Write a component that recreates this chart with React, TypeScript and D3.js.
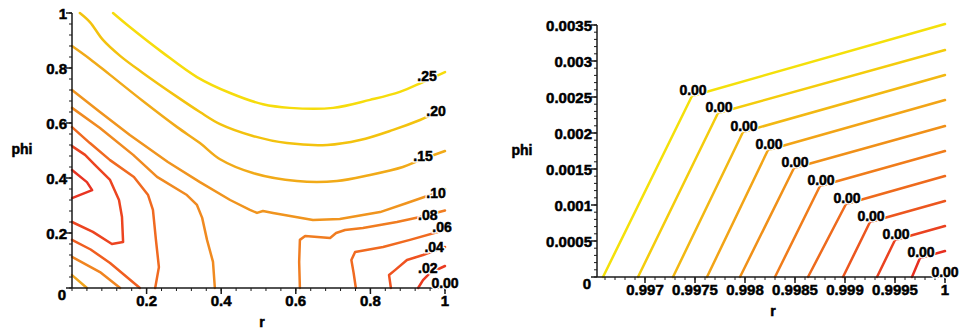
import React from 'react';
import * as d3 from 'd3';

// ---- left plot: contour lines, [r, phi]
const c25 = [[0.11, 1], [0.155, 0.949], [0.244, 0.855], [0.335, 0.767], [0.424, 0.709], [0.512, 0.668], [0.584, 0.655], [0.70, 0.655], [0.799, 0.684], [0.879, 0.713], [0.941, 0.749], [1, 0.785]];
const c20 = [[0.021, 1], [0.048, 0.967], [0.083, 0.902], [0.129, 0.844], [0.19, 0.782], [0.282, 0.695], [0.343, 0.64], [0.397, 0.596], [0.485, 0.553], [0.576, 0.527], [0.684, 0.52], [0.772, 0.538], [0.861, 0.575], [0.933, 0.611], [1, 0.651]];
const c15 = [[0, 0.88], [0.048, 0.833], [0.102, 0.775], [0.19, 0.68], [0.282, 0.585], [0.343, 0.527], [0.397, 0.468], [0.485, 0.418], [0.603, 0.389], [0.71, 0.389], [0.799, 0.411], [0.887, 0.44], [0.933, 0.465], [1, 0.498]];
const c10 = [[0, 0.72], [0.075, 0.64], [0.155, 0.556], [0.257, 0.458], [0.343, 0.385], [0.424, 0.32], [0.477, 0.284], [0.496, 0.273], [0.512, 0.28], [0.539, 0.273], [0.646, 0.247], [0.718, 0.251], [0.826, 0.276], [0.898, 0.309], [0.96, 0.338], [1, 0.36]];
const c08 = [[0.611, 0], [0.609, 0.095], [0.611, 0.175], [0.625, 0.189], [0.692, 0.182], [0.708, 0.2], [0.732, 0.211], [0.78, 0.218], [0.871, 0.24], [0.933, 0.258], [1, 0.282]];
const c06 = [[0.761, 0], [0.755, 0.055], [0.749, 0.102], [0.759, 0.131], [0.834, 0.149], [0.906, 0.175], [1, 0.211]];
const c04 = [[0.855, 0], [0.85, 0.047], [0.866, 0.065], [0.898, 0.102], [0.941, 0.12], [1, 0.149]];
const c02 = [[0.928, 0], [0.941, 0.029], [0.96, 0.055], [1, 0.08]];
const cMidA = [[0, 0.655], [0.075, 0.582], [0.164, 0.484], [0.228, 0.404], [0.308, 0.338], [0.335, 0.302], [0.349, 0.255], [0.362, 0.175], [0.378, 0.095], [0.383, 0]];
const cMidB = [[0, 0.585], [0.048, 0.527], [0.102, 0.465], [0.166, 0.404], [0.204, 0.338], [0.217, 0.284], [0.225, 0.175], [0.233, 0.076], [0.223, 0]];
const cLoop = [[0, 0.516], [0.035, 0.484], [0.062, 0.447], [0.102, 0.393], [0.126, 0.32], [0.134, 0.258], [0.137, 0.167], [0.107, 0.16], [0.056, 0.204], [0, 0.24]];
const cWedge = [[0, 0.429], [0.04, 0.385], [0.054, 0.356], [0, 0.327]];
const cLow1 = [[0, 0.175], [0.05, 0.14], [0.102, 0.091], [0.182, 0]];
const cLow2 = [[0, 0.113], [0.075, 0.058], [0.129, 0]];
const cLow3 = [[0, 0.047], [0.04, 0]];

const leftLines = [c25, c20, c15, c10, c08, c06, c04, c02, cMidA, cMidB, cLoop, cWedge, cLow1, cLow2, cLow3];
const leftColors = ['#f6dc0c', '#f3c20e', '#f1aa18', '#f0941e', '#f07c20', '#f06a20', '#ef5220', '#ea3a20',
  '#f08a20', '#f06a20', '#ec4420', '#e83422', '#f05e20', '#f08420', '#f1a41c'];
// the three upper contours are smooth arcs, the rest are drawn as plain polylines
const leftSmooth = [true, true, true, false, false, false, false, false, false, false, false, false, false, false, false];

const leftLabelText = ['.25', '.20', '.15', '.10', '.08', '.06', '.04', '.02', '0.00'];
const leftLabelR = [0.952, 0.976, 0.941, 0.976, 0.954, 0.992, 0.971, 0.954, 1.0];
const leftLabelPhi = [0.771, 0.644, 0.48, 0.345, 0.265, 0.222, 0.149, 0.073, 0.018];

const leftTickVals = [0, 0.2, 0.4, 0.6, 0.8, 1];
const leftTickText = ['0', '0.2', '0.4', '0.6', '0.8', '1'];

// ---- right plot: each contour = bottom point -> kink -> right edge
const rBottom = [0.99658, 0.99693, 0.99728, 0.99762, 0.99795, 0.9983, 0.99863, 0.99898, 0.99932, 0.99967];
const kinkR = [0.99747, 0.99773, 0.99798, 0.99823, 0.99849, 0.99875, 0.99901, 0.99925, 0.9995, 0.99975];
const kinkPhi = [0.002514, 0.002278, 0.002014, 0.001764, 0.001514, 0.001264, 0.001014, 0.000764, 0.000514, 0.000264];
const endPhi = [0.003514, 0.003153, 0.002806, 0.002458, 0.002097, 0.00175, 0.001403, 0.001056, 0.000708, 0.000361];
const rightColors = ['#f4e00a', '#f4cc0c', '#f2b812', '#f2a416', '#f09018', '#f07c1a', '#ee6a1c', '#ec561e', '#ea4220', '#e62e20'];

const rightXTickVals = [0.997, 0.9975, 0.998, 0.9985, 0.999, 0.9995, 1];
const rightXTickText = ['0.997', '0.9975', '0.998', '0.9985', '0.999', '0.9995', '1'];
const rightYTickVals = [0, 0.0005, 0.001, 0.0015, 0.002, 0.0025, 0.003, 0.0035];
const rightYTickText = ['0', '0.0005', '0.001', '0.0015', '0.002', '0.0025', '0.003', '0.0035'];

const FONT = '"Liberation Sans", Arial, sans-serif';
const AXIS = '#1a1a1a';

function BoldText({ x, y, anchor = 'middle', size = 15, children }) {
  return (
    <text x={x} y={y} textAnchor={anchor} dominantBaseline="central" fontFamily={FONT} fontWeight="bold"
      fontSize={size} stroke="#000" strokeWidth={0.5}>{children}</text>
  );
}

function Axes({ x, y, xVals, xText, yVals, yText, xMinor, yMinor }) {
  const x0 = x.range()[0];
  const y0 = y.range()[0];
  return (
    <g>
      <line x1={x0} x2={x.range()[1]} y1={y0} y2={y0} stroke={AXIS} strokeWidth={1.5} />
      <line x1={x0} x2={x0} y1={y0} y2={y.range()[1]} stroke={AXIS} strokeWidth={1.5} />
      {xMinor.map((v, i) => (
        <line key={'xm' + i} x1={x(v)} x2={x(v)} y1={y0} y2={y0 + 3} stroke={AXIS} strokeWidth={1} />
      ))}
      {yMinor.map((v, i) => (
        <line key={'ym' + i} x1={x0 - 3} x2={x0} y1={y(v)} y2={y(v)} stroke={AXIS} strokeWidth={1} />
      ))}
      {xVals.map((v, i) => v === 0 ? null : (
        <g key={'xt' + i}>
          <line x1={x(v)} x2={x(v)} y1={y0} y2={y0 + 6} stroke={AXIS} strokeWidth={1.5} />
          <BoldText x={x(v)} y={y0 + 12}>{xText[i]}</BoldText>
        </g>
      ))}
      {yVals.map((v, i) => (
        <g key={'yt' + i}>
          <line x1={x0 - 6} x2={x0} y1={y(v)} y2={y(v)} stroke={AXIS} strokeWidth={1.5} />
          <BoldText x={v === 0 ? x0 - 6 : x0 - 5} y={v === 0 ? y(v) + 6 : y(v)} anchor="end">{yText[i]}</BoldText>
        </g>
      ))}
    </g>
  );
}

function ContourLabel({ x, y, text }) {
  return (
    <g>
      <text x={x} y={y} textAnchor="middle" dominantBaseline="central" fontFamily={FONT} fontWeight="bold"
        fontSize={14} stroke="#fff" strokeWidth={3}>{text}</text>
      <text x={x} y={y} textAnchor="middle" dominantBaseline="central" fontFamily={FONT} fontWeight="bold"
        fontSize={14} stroke="#000" strokeWidth={0.5} fill="#000">{text}</text>
    </g>
  );
}

export default function App() {
  const xL = d3.scaleLinear().domain([0, 1]).range([72, 445]);
  const yL = d3.scaleLinear().domain([0, 1]).range([288, 13]);
  const xR = d3.scaleLinear().domain([0.99652, 1]).range([597, 945]);
  const yR = d3.scaleLinear().domain([0, 0.0035]).range([277, 25]);

  const lineL = d3.line().x(d => xL(d[0])).y(d => yL(d[1]));
  const smoothL = d3.line().x(d => xL(d[0])).y(d => yL(d[1])).curve(d3.curveCatmullRom.alpha(0.5));
  const lineR = d3.line().x(d => xR(d[0])).y(d => yR(d[1]));

  const rightLines = rBottom.map((b, i) => [[b, 0], [kinkR[i], kinkPhi[i]], [1, endPhi[i]]]);

  const leftMinor = d3.range(0, 1.0001, 0.04);
  const rightXMinor = d3.range(0.9966, 1.00001, 0.0001);
  const rightYMinor = d3.range(0, 0.003501, 0.0001);

  return (
    <svg width={969} height={330} style={{ position: 'absolute', left: 0, top: 0, background: '#fff' }}>
      {/* left plot */}
      <g>
        {leftLines.map((pts, i) => (
          <path key={'l' + i} d={(leftSmooth[i] ? smoothL : lineL)(pts)} fill="none" stroke={leftColors[i]} strokeWidth={2.5}
            strokeLinejoin="round" strokeLinecap="round" />
        ))}
        <Axes x={xL} y={yL} xVals={leftTickVals} xText={leftTickText} yVals={leftTickVals} yText={leftTickText}
          xMinor={leftMinor} yMinor={leftMinor} />
        {leftLabelText.map((t, i) => (
          <ContourLabel key={'ll' + i} x={xL(leftLabelR[i])} y={yL(leftLabelPhi[i])} text={t} />
        ))}
        <BoldText x={22} y={149} size={14}>phi</BoldText>
        <BoldText x={262} y={322} size={14}>r</BoldText>
      </g>

      {/* right plot */}
      <g>
        {rightLines.map((pts, i) => (
          <path key={'r' + i} d={lineR(pts)} fill="none" stroke={rightColors[i]} strokeWidth={2.5}
            strokeLinejoin="round" strokeLinecap="round" />
        ))}
        <Axes x={xR} y={yR} xVals={rightXTickVals} xText={rightXTickText} yVals={rightYTickVals} yText={rightYTickText}
          xMinor={rightXMinor} yMinor={rightYMinor} />
        {kinkR.map((r, i) => (
          <ContourLabel key={'rl' + i} x={xR(r) + 1} y={yR(kinkPhi[i]) - 6} text="0.00" />
        ))}
        <ContourLabel x={xR(1)} y={yR(0) - 5} text="0.00" />
        <BoldText x={522} y={150} size={14}>phi</BoldText>
        <BoldText x={773} y={311} size={14}>r</BoldText>
      </g>
    </svg>
  );
}
